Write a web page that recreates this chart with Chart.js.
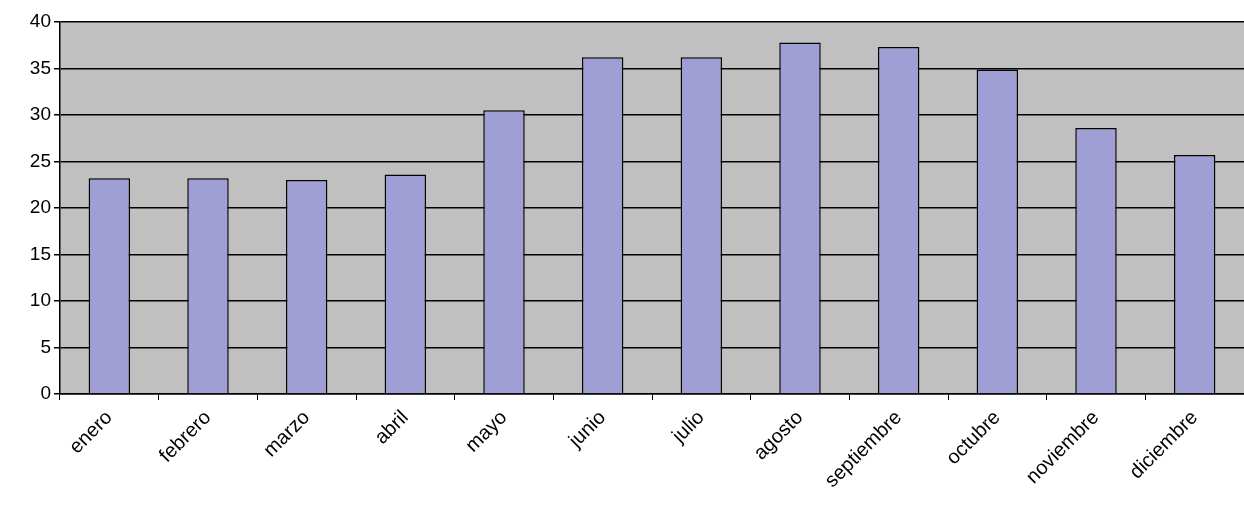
<!DOCTYPE html>
<html><head><meta charset="utf-8">
<script src="https://cdn.jsdelivr.net/npm/chart.js@4"></script>
<style>html,body{margin:0;background:#fff}#w{width:1244px;height:520px}</style>
</head><body><div id="w"><canvas id="c"></canvas></div>
<script>
const months = ["enero","febrero","marzo","abril","mayo","junio","julio","agosto","septiembre","octubre","noviembre","diciembre"];
const values = [23.2,23.2,23.0,23.6,30.5,36.2,36.2,37.8,37.3,34.9,28.6,25.7];

const plotBg = {
  id: "plotBg",
  beforeDraw(chart) {
    const a = chart.chartArea, ctx = chart.ctx;
    ctx.save();
    ctx.fillStyle = "#c0c0c0";
    ctx.fillRect(a.left, a.top, a.right - a.left, a.bottom - a.top);
    ctx.restore();
  }
};

new Chart(document.getElementById("c"), {
  type: "bar",
  data: {
    labels: months,
    datasets: [{
      data: values,
      backgroundColor: "#9f9fd6",
      borderColor: "#000",
      borderWidth: 1.5,
      barPercentage: 0.42,
      categoryPercentage: 1
    }]
  },
  options: {
    responsive: true,
    maintainAspectRatio: false,
    animation: false,
    layout: { padding: { top: 22, right: 0, left: 0 } },
    plugins: { legend: { display: false }, tooltip: { enabled: false } },
    scales: {
      x: {
        afterFit: (s) => { s.height = 126; },
        grid: { offset: true, drawOnChartArea: false, color: "#000", tickLength: 6 },
        border: { color: "#000", width: 1.5 },
        ticks: { color: "#000", font: { family: "Liberation Sans", size: 20 }, maxRotation: 45, minRotation: 45, padding: 6 }
      },
      y: {
        min: 0, max: 40,
        afterFit: (s) => { s.width = 60; },
        ticks: { stepSize: 5, color: "#000", font: { family: "Liberation Sans", size: 19 } },
        grid: { color: "#000", lineWidth: 1.5, tickLength: 6 },
        border: { color: "#000", width: 1.5 }
      }
    }
  },
  plugins: [plotBg]
});
</script></body></html>
